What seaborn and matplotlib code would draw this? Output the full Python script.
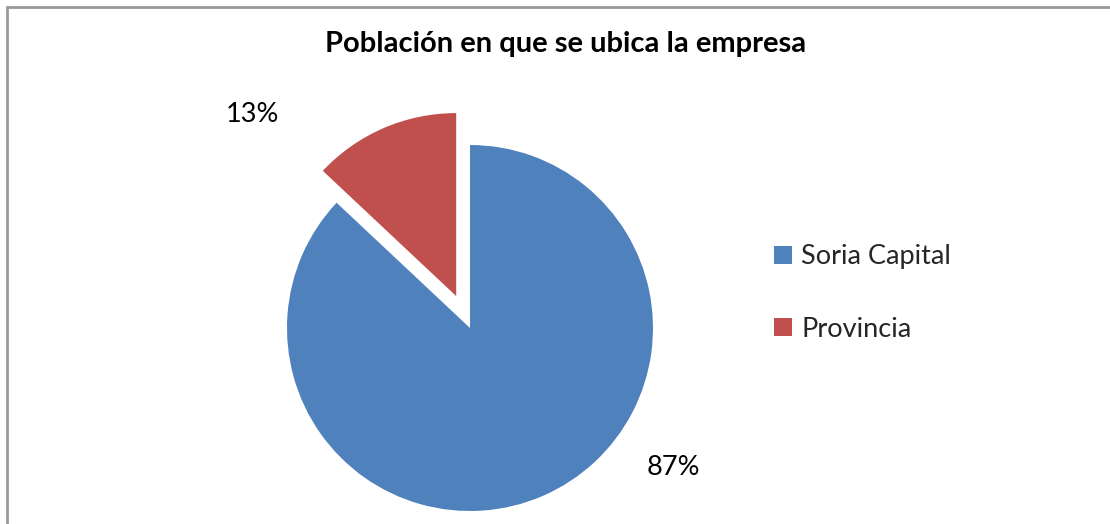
import matplotlib
matplotlib.use("Agg")
import matplotlib.pyplot as plt
import seaborn as sns
from matplotlib.patches import Rectangle

# chart data
categories = ["Soria Capital", "Provincia"]
shares = [87, 13]
colors = ["#4F81BD", "#C0504D"]
title = "Población en que se ubica la empresa"

sns.set_theme(style="white")
plt.rcParams["font.family"] = ["Lato", "DejaVu Sans"]

W, H = 1110, 524
R = 183  # pie radius in pixels
cx, cy = 470, 328  # pie centre, pixels from top-left

fig = plt.figure(figsize=(W / 100, H / 100), dpi=100)
ax = fig.add_axes([0, 0, 1, 1])

wedges, texts, autotexts = ax.pie(
    shares, colors=colors, startangle=90, counterclock=False,
    explode=[0, 0.19], autopct="%1.0f%%", radius=1,
    wedgeprops={"linewidth": 0},
    textprops={"fontsize": 19.5, "color": "black"},
)
ax.set_aspect("auto")
ax.set_xlim(-cx / R, (W - cx) / R)
ax.set_ylim(-(H - cy) / R, cy / R)
ax.axis("off")
# outside label positions, as in the original
autotexts[0].set_position((1.11, -0.76))
autotexts[1].set_position((-1.19, 1.165))

fig.text(566 / W, 1 - 44 / H, title, ha="center", va="center",
         fontsize=21, fontweight="bold", color="black")

fig.legend(wedges, categories, loc="center left",
           bbox_to_anchor=(750 / W, 1 - 293 / H), frameon=False,
           fontsize=19.5, handlelength=0.65, handleheight=0.65,
           handletextpad=0.35, labelspacing=1.75)

# chart area border (only top and left visible)
fig.patches.append(Rectangle((7 / W, -0.1), 1.2, 1 - 7 / H + 0.1,
                             transform=fig.transFigure, fill=False,
                             edgecolor="#9a9a9a", linewidth=2))

fig.savefig("out.png", dpi=100)
